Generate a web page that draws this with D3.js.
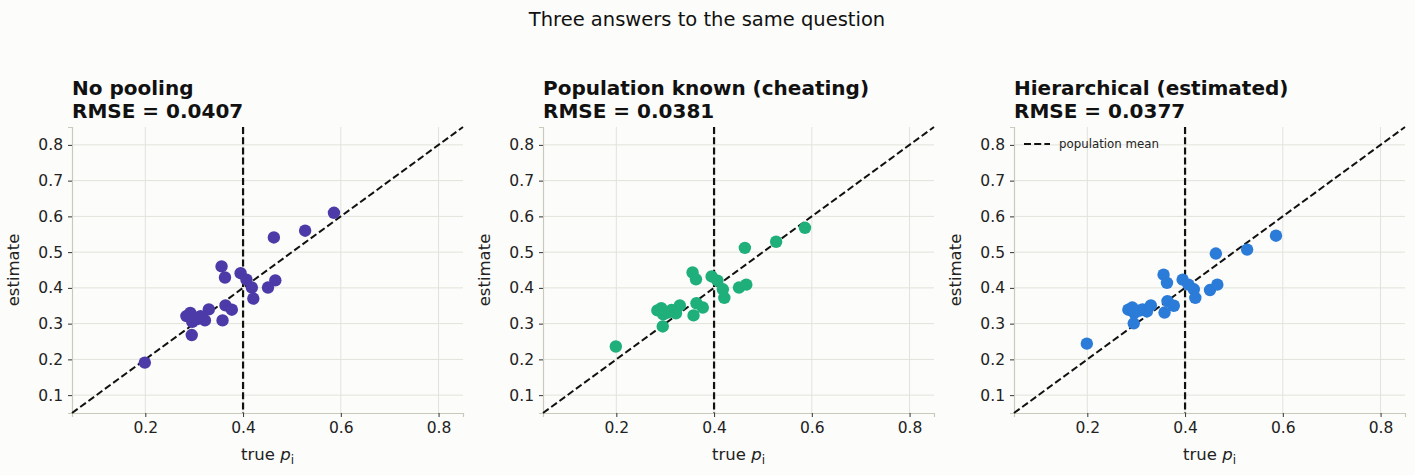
<!DOCTYPE html>
<html><head><meta charset="utf-8">
<script src="https://cdn.jsdelivr.net/npm/d3@7/dist/d3.min.js"></script>
<style>
body{margin:0;background:#fcfcfa;}
svg{font-family:"DejaVu Sans",sans-serif;}
</style></head><body>
<svg id="c" width="1415" height="475"></svg>
<script>
const trueP   = [0.199,0.586,0.527,0.463,0.356,0.363,0.395,0.407,0.418,0.421,0.451,0.466,0.364,0.377,0.358,0.330,0.295,0.284,0.292,0.296,0.313,0.322,0.305];
const noPool  = [0.191,0.610,0.560,0.541,0.460,0.429,0.441,0.423,0.401,0.370,0.401,0.421,0.351,0.339,0.309,0.340,0.268,0.321,0.330,0.305,0.321,0.309,0.312];
const popKnown= [0.236,0.568,0.529,0.512,0.443,0.424,0.432,0.420,0.396,0.372,0.401,0.409,0.357,0.345,0.323,0.351,0.292,0.337,0.343,0.326,0.338,0.329,0.331];
const hier    = [0.244,0.546,0.507,0.496,0.437,0.414,0.423,0.409,0.396,0.372,0.394,0.409,0.363,0.350,0.331,0.351,0.301,0.339,0.345,0.330,0.340,0.334,0.336];
const titles  = ["No pooling","Population known (cheating)","Hierarchical (estimated)"];
const rmse    = ["0.0407","0.0381","0.0377"];
const colors  = ["#4b3aa7","#1faf7b","#2b7bd8"];
const xTicks  = [0.2,0.4,0.6,0.8];
const yTicks  = [0.1,0.2,0.3,0.4,0.5,0.6,0.7,0.8];
const popMean = 0.4;
const domain  = [0.05,0.85];

(function(){
const svg = d3.select("#c");
svg.append("text").attr("x",707).attr("y",26).attr("text-anchor","middle")
  .attr("font-size",19.5).attr("fill","#111").text("Three answers to the same question");

const series=[noPool,popKnown,hier];
const lefts=[72,543,1014], W=391, pTop=127, pBottom=413;
series.forEach((ys,k)=>{
  const x=d3.scaleLinear().domain(domain).range([lefts[k],lefts[k]+W]);
  const y=d3.scaleLinear().domain(domain).range([pBottom,pTop]);
  const g=svg.append("g");
  g.selectAll(".gx").data(xTicks).join("line").attr("x1",d=>x(d)).attr("x2",d=>x(d))
    .attr("y1",pTop).attr("y2",pBottom).attr("stroke","#e2e2dc").attr("stroke-width",1);
  g.selectAll(".gy").data(yTicks).join("line").attr("y1",d=>y(d)).attr("y2",d=>y(d))
    .attr("x1",lefts[k]).attr("x2",lefts[k]+W).attr("stroke","#e2e2dc").attr("stroke-width",1);
  const xa=g.append("g").attr("transform",`translate(0,${pBottom})`)
    .call(d3.axisBottom(x).tickValues(xTicks).tickFormat(d3.format(".1f")).tickSize(4).tickPadding(5));
  const ya=g.append("g").attr("transform",`translate(${lefts[k]},0)`)
    .call(d3.axisLeft(y).tickValues(yTicks).tickFormat(d3.format(".1f")).tickSize(4).tickPadding(5));
  [xa,ya].forEach(a=>{
    a.select(".domain").attr("stroke","#c9c9bc").attr("stroke-width",1.2);
    a.selectAll(".tick line").attr("stroke","#333");
    a.selectAll(".tick text").attr("font-size",15.5).attr("fill","#222").attr("font-family","DejaVu Sans");
  });
  g.append("line").attr("x1",x(domain[0])).attr("y1",y(domain[0])).attr("x2",x(domain[1])).attr("y2",y(domain[1]))
    .attr("stroke","#111").attr("stroke-width",2).attr("stroke-dasharray","7,3.2");
  g.append("line").attr("x1",x(popMean)).attr("x2",x(popMean)).attr("y1",pTop).attr("y2",pBottom)
    .attr("stroke","#111").attr("stroke-width",2.2).attr("stroke-dasharray","7,3.2");
  g.selectAll("circle").data(trueP.map((p,i)=>[p,ys[i]])).join("circle")
    .attr("cx",d=>x(d[0])).attr("cy",d=>y(d[1])).attr("r",6.2).attr("fill",colors[k]);
  const t=g.append("text").attr("x",lefts[k]).attr("font-size",20).attr("font-weight","bold").attr("fill","#111");
  t.append("tspan").attr("x",lefts[k]).attr("y",95).text(titles[k]);
  t.append("tspan").attr("x",lefts[k]).attr("y",118).text("RMSE = "+rmse[k]);
  const xl=g.append("text").attr("x",lefts[k]+W/2).attr("y",460).attr("text-anchor","middle")
    .attr("font-size",16.5).attr("fill","#222");
  xl.append("tspan").text("true ");
  xl.append("tspan").attr("font-style","italic").text("p");
  xl.append("tspan").attr("font-size",12).attr("dy",4).text("i");
  g.append("text").attr("transform",`translate(${lefts[k]-53},${(pTop+pBottom)/2}) rotate(-90)`)
    .attr("text-anchor","middle").attr("font-size",16.5).attr("fill","#222").text("estimate");
  if(k===2){
    g.append("line").attr("x1",lefts[k]+10).attr("x2",lefts[k]+36).attr("y1",y(0.8)-1).attr("y2",y(0.8)-1)
      .attr("stroke","#111").attr("stroke-width",2).attr("stroke-dasharray","7,3.2");
    g.append("text").attr("x",lefts[k]+45).attr("y",y(0.8)+3).attr("font-size",11.8).attr("fill","#222").text("population mean");
  }
});
})();
</script></body></html>
